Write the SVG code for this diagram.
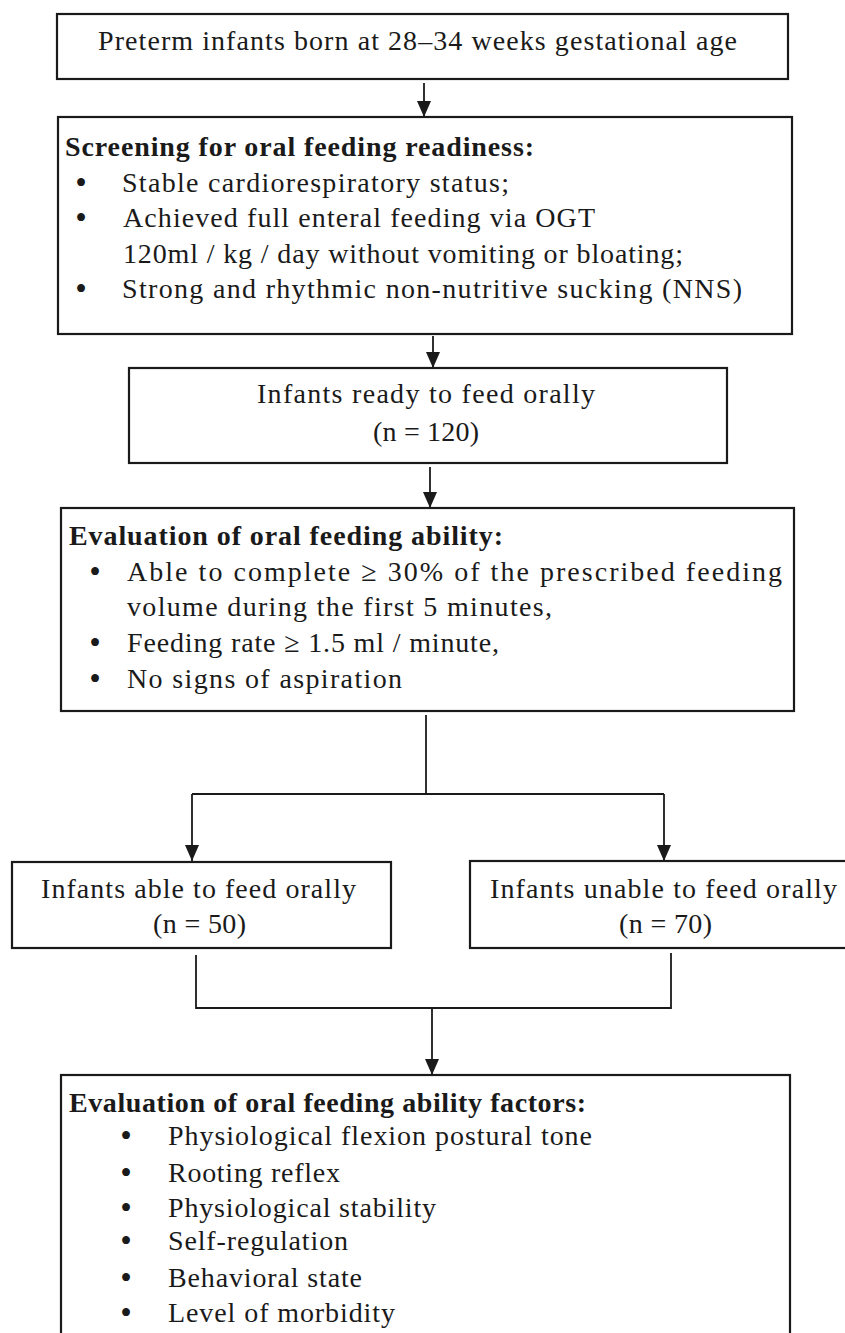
<svg xmlns="http://www.w3.org/2000/svg" width="845" height="1333" viewBox="0 0 845 1333">
<style>
.box{fill:#fff;stroke:#1a1a1a;stroke-width:2.2}
.t{font-family:"Liberation Serif","Times New Roman",serif;font-size:28px;fill:#1a1a1a}
.b{font-weight:bold}
.c{text-anchor:middle;font-size:33px}
.ln{fill:none;stroke:#1a1a1a;stroke-width:1.8}
</style>
<defs>
<marker id="ah" viewBox="0 0 16 14" refX="16" refY="7" markerWidth="16" markerHeight="14" markerUnits="userSpaceOnUse" orient="auto">
<path d="M0,0 L16,7 L0,14 z" fill="#1a1a1a"/>
</marker>
</defs>
<rect width="845" height="1333" fill="#fff"/>
<g id="connectors">
<line class="ln" x1="424" y1="83" x2="424" y2="117" marker-end="url(#ah)"/>
<line class="ln" x1="433" y1="336" x2="433" y2="368" marker-end="url(#ah)"/>
<line class="ln" x1="430" y1="467" x2="430" y2="508" marker-end="url(#ah)"/>
<polyline class="ln" points="426,715 426,794"/>
<polyline class="ln" points="192,794 664,794"/>
<line class="ln" x1="192" y1="794" x2="192" y2="861" marker-end="url(#ah)"/>
<line class="ln" x1="664" y1="794" x2="664" y2="861" marker-end="url(#ah)"/>
<polyline class="ln" points="196,955 196,1008 671,1008 671,953"/>
<line class="ln" x1="432" y1="1008" x2="432" y2="1075" marker-end="url(#ah)"/>
</g>
<g id="n1">
<rect class="box" x="57" y="14" width="731" height="65"/>
<text class="t" x="98" y="50" textLength="639">Preterm infants born at 28–34 weeks gestational age</text>
</g>
<g id="n2">
<rect class="box" x="58" y="117" width="734" height="217"/>
<text class="t b" x="65" y="156" textLength="469">Screening for oral feeding readiness:</text>
<text class="t c" x="81" y="194">•</text>
<text class="t" x="122" y="192" textLength="387">Stable cardiorespiratory status;</text>
<text class="t c" x="81" y="229">•</text>
<text class="t" x="123" y="227" textLength="472">Achieved full enteral feeding via OGT</text>
<text class="t" x="123" y="263" textLength="560">120ml / kg / day without vomiting or bloating;</text>
<text class="t c" x="81" y="300">•</text>
<text class="t" x="122" y="298" textLength="620">Strong and rhythmic non-nutritive sucking (NNS)</text>
</g>
<g id="n3">
<rect class="box" x="129" y="368" width="598" height="95"/>
<text class="t" x="257" y="403" textLength="338">Infants ready to feed orally</text>
<text class="t" x="373" y="441" textLength="106">(n = 120)</text>
</g>
<g id="n4">
<rect class="box" x="61" y="508" width="733" height="203"/>
<text class="t b" x="69" y="545" textLength="434">Evaluation of oral feeding ability:</text>
<text class="t c" x="95" y="583">•</text>
<text class="t" x="127" y="581" textLength="655">Able to complete ≥ 30% of the prescribed feeding</text>
<text class="t" x="127" y="616" textLength="425">volume during the first 5 minutes,</text>
<text class="t c" x="95" y="654">•</text>
<text class="t" x="127" y="652" textLength="372">Feeding rate ≥ 1.5 ml / minute,</text>
<text class="t c" x="95" y="690">•</text>
<text class="t" x="127" y="688" textLength="275">No signs of aspiration</text>
</g>
<g id="n5">
<rect class="box" x="12" y="862" width="379" height="86"/>
<text class="t" x="41" y="898" textLength="315">Infants able to feed orally</text>
<text class="t" x="153" y="933" textLength="93">(n = 50)</text>
</g>
<g id="n6">
<rect class="box" x="470" y="861" width="390" height="87"/>
<text class="t" x="490" y="898" textLength="347">Infants unable to feed orally</text>
<text class="t" x="619" y="933" textLength="93">(n = 70)</text>
</g>
<g id="n7">
<rect class="box" x="61" y="1075" width="729" height="280"/>
<text class="t b" x="69" y="1112" textLength="517">Evaluation of oral feeding ability factors:</text>
<text class="t c" x="126" y="1147">•</text>
<text class="t" x="168" y="1145" textLength="424">Physiological flexion postural tone</text>
<text class="t c" x="126" y="1184">•</text>
<text class="t" x="168" y="1182" textLength="172">Rooting reflex</text>
<text class="t c" x="126" y="1219">•</text>
<text class="t" x="168" y="1217" textLength="268">Physiological stability</text>
<text class="t c" x="126" y="1252">•</text>
<text class="t" x="168" y="1250" textLength="180">Self-regulation</text>
<text class="t c" x="126" y="1289">•</text>
<text class="t" x="168" y="1287" textLength="194">Behavioral state</text>
<text class="t c" x="126" y="1324">•</text>
<text class="t" x="168" y="1322" textLength="227">Level of morbidity</text>
</g>
</svg>
